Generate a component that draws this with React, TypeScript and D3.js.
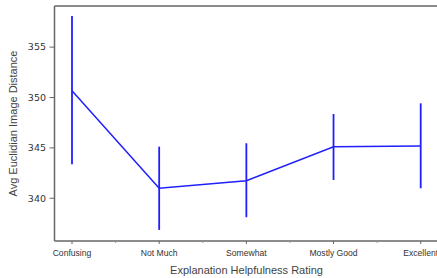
import React from "react";
import * as d3 from "d3";

const categories = ["Confusing", "Not Much", "Somewhat", "Mostly Good", "Excellent"];
const means = [350.67, 340.99, 341.75, 345.12, 345.19];
const lowers = [343.37, 336.86, 338.12, 341.82, 340.99];
const uppers = [358.09, 345.12, 345.46, 348.36, 349.42];
const yTicks = [340, 345, 350, 355];

const W = 437;
const H = 278;
const left = 54.5;
const top = 6;
const bottom = 241;

export default function App() {
    const x = d3.scalePoint<string>()
        .domain(categories)
        .range([72, 420.7]);

    const y = d3.scaleLinear()
        .domain([335.76, 359.08])
        .range([bottom, top]);

    const step = x.step();
    const minorTicks = categories.slice(0, -1).map(c => (x(c) as number) + step / 2);

    const line = d3.line<number>()
        .x((_, i) => x(categories[i]) as number)
        .y(d => y(d));

    const axisColor = "#666";
    const font = "'Liberation Sans', Arial, sans-serif";

    return (
        <svg width={W} height={H} style={{ position: "absolute", left: 0, top: 0 }}>
            <rect width={W} height={H} fill="#fff" />

            {/* spines */}
            <line x1={left} x2={W} y1={top} y2={top} stroke={axisColor} strokeWidth={1.5} />
            <line x1={left} x2={left} y1={top} y2={bottom} stroke={axisColor} strokeWidth={1.5} />
            <line x1={left} x2={W} y1={bottom} y2={bottom} stroke={axisColor} strokeWidth={1.5} />

            {/* y ticks */}
            {yTicks.map(t => (
                <g key={t}>
                    <line x1={left - 5} x2={left} y1={y(t)} y2={y(t)} stroke={axisColor} strokeWidth={1} />
                    <text x={left - 8.5} y={y(t)} dy="0.35em" textAnchor="end" fontSize={9.5}
                        fontFamily="'DejaVu Sans', sans-serif" fill="#333">{t}</text>
                </g>
            ))}

            {/* x ticks */}
            {categories.map(c => (
                <g key={c}>
                    <line x1={x(c)} x2={x(c)} y1={bottom} y2={bottom + 3} stroke={axisColor} strokeWidth={1} />
                    <text x={x(c)} y={bottom + 14.5} textAnchor="middle" fontSize={8.6}
                        fontFamily={font} fill="#333">{c}</text>
                </g>
            ))}
            {minorTicks.map((m, i) => (
                <line key={i} x1={m} x2={m} y1={bottom} y2={bottom + 2} stroke="#999" strokeWidth={1} />
            ))}

            {/* error bars */}
            {categories.map((c, i) => (
                <line key={c} x1={x(c)} x2={x(c)} y1={y(lowers[i])} y2={y(uppers[i])}
                    stroke="#1f1fff" strokeWidth={1.8} />
            ))}

            {/* mean line */}
            <path d={line(means) || ""} fill="none" stroke="#1f1fff" strokeWidth={1.5} />

            {/* axis titles */}
            <text x={246.5} y={274} textAnchor="middle" fontSize={11} fontFamily={font} fill="#444">
                Explanation Helpfulness Rating
            </text>
            <text transform={`translate(17,${(top + bottom) / 2}) rotate(-90)`} textAnchor="middle"
                fontSize={11} fontFamily={font} fill="#444">
                Avg Euclidian Image Distance
            </text>
        </svg>
    );
}
